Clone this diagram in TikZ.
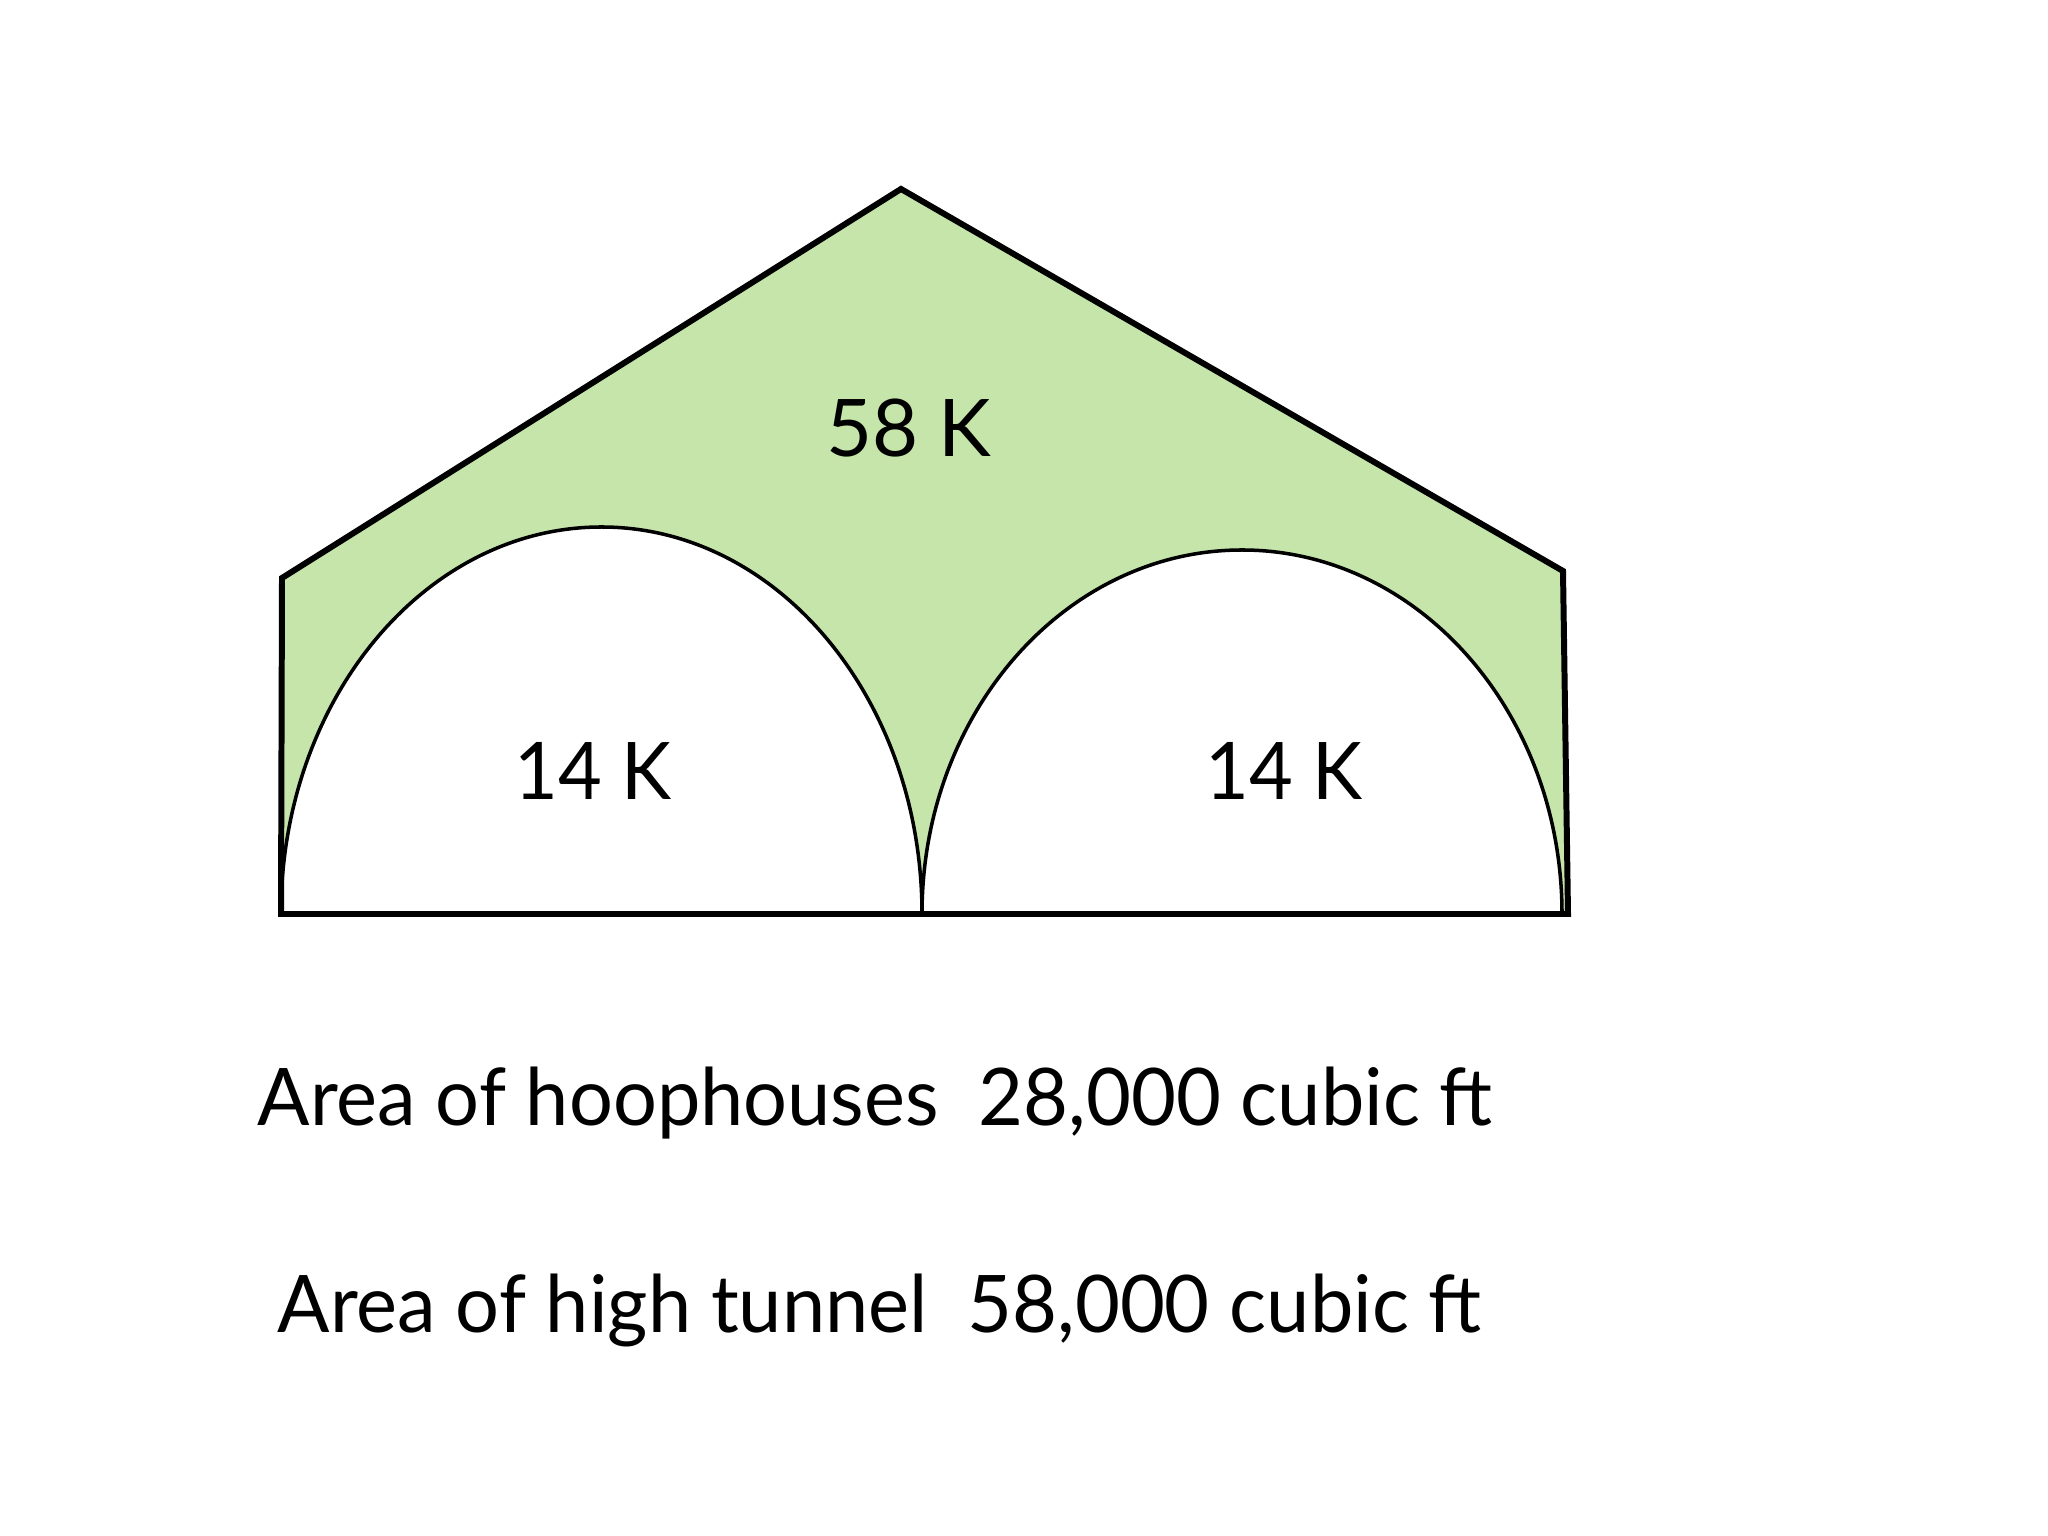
\documentclass[tikz,border=0pt]{standalone}
\usepackage{fontspec}
\setmainfont{Lato}
\definecolor{roofgreen}{RGB}{197,229,170}
\tikzset{
  outline/.style={draw=black, line width=1.7pt, line join=miter},
  hoop/.style={draw=black, fill=white, line width=1.0pt},
  lbl/.style={font=\fontsize{22.6}{26}\selectfont, inner sep=0pt, anchor=base},
  caption/.style={font=\fontsize{22.6}{26}\selectfont, inner sep=0pt, anchor=base west}
}
\begin{document}
\begin{tikzpicture}[x=0.01cm, y=0.01cm]
\useasboundingbox (0,0) rectangle (2048,1536);
\fill[white] (0,0) rectangle (2048,1536);
% pentagon (high tunnel)
\coordinate (bl) at (281,622);
\coordinate (lt) at (282,958);
\coordinate (apex) at (901,1347);
\coordinate (rt) at (1563,965);
\coordinate (br) at (1568,622);
\fill[roofgreen] (bl) -- (lt) -- (apex) -- (rt) -- (br) -- cycle;
% hoophouses
\draw[hoop] (281,622) arc[start angle=180, end angle=0, x radius=320.5, y radius=387] -- cycle;
\draw[hoop] (922,622) arc[start angle=180, end angle=0, x radius=320, y radius=364] -- cycle;
\draw[outline] (bl) -- (lt) -- (apex) -- (rt) -- (br) -- cycle;
\draw[draw=black, line width=1.0pt] (922,622) -- (922,640);
% labels
\node[lbl] (big) at (909,1079) {58 K};
\node[lbl] (left) at (593,736) {\scalebox{0.95}[1]{14 K}};
\node[lbl] (right) at (1284,736) {\scalebox{0.95}[1]{14 K}};
\node[caption] (cap1) at (257,410) {\scalebox{0.975}[1]{Area of hoophouses\ \ 28,000 cubic ft}};
\node[caption] (cap2) at (277,203) {\scalebox{0.975}[1]{Area of high tunnel\ \ 58,000 cubic ft}};
\end{tikzpicture}
\end{document}
